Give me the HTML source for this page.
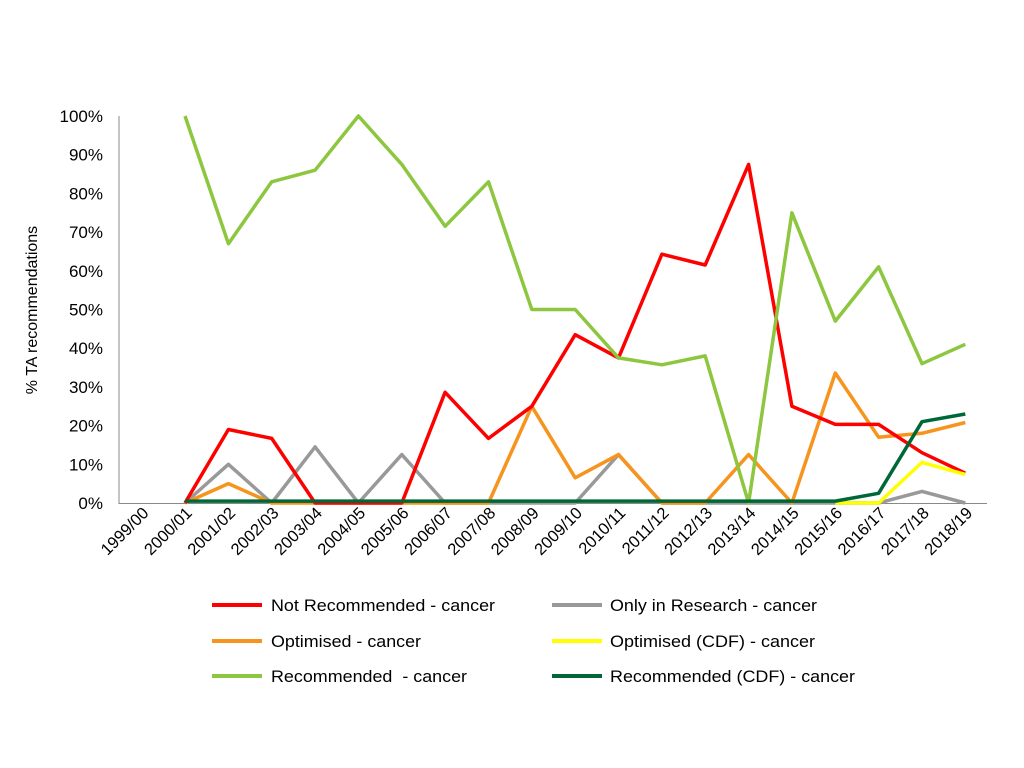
<!DOCTYPE html>
<html><head><meta charset="utf-8"><style>
body{margin:0;background:#fff;}
svg{display:block;font-family:"Liberation Sans",Arial,sans-serif;}
</style></head><body>
<svg id="c" width="1024" height="768" xmlns="http://www.w3.org/2000/svg">
<text transform="translate(37,310) rotate(-90)" font-size="16" text-anchor="middle" fill="#000">% TA recommendations</text>
<g id="g"></g>
<g font-size="17" fill="#000">
<line x1="212" y1="605" x2="262" y2="605" stroke="#ff0000" stroke-width="4"/><text x="271" y="611" textLength="224" lengthAdjust="spacingAndGlyphs">Not Recommended - cancer</text>
<line x1="552" y1="605" x2="602" y2="605" stroke="#999999" stroke-width="4"/><text x="610" y="611" textLength="207" lengthAdjust="spacingAndGlyphs">Only in Research - cancer</text>
<line x1="212" y1="641" x2="262" y2="641" stroke="#f7941d" stroke-width="4"/><text x="271" y="647" textLength="150" lengthAdjust="spacingAndGlyphs">Optimised - cancer</text>
<line x1="552" y1="641" x2="602" y2="641" stroke="#ffff00" stroke-width="4"/><text x="610" y="647" textLength="205" lengthAdjust="spacingAndGlyphs">Optimised (CDF) - cancer</text>
<line x1="212" y1="676" x2="262" y2="676" stroke="#8dc63f" stroke-width="4"/><text x="271" y="682" textLength="196" lengthAdjust="spacingAndGlyphs">Recommended&#160; - cancer</text>
<line x1="552" y1="676" x2="602" y2="676" stroke="#006837" stroke-width="4"/><text x="610" y="682" textLength="245" lengthAdjust="spacingAndGlyphs">Recommended (CDF) - cancer</text>
</g>
</svg>
<script>
var g=document.getElementById('g'),h='';
var x0=120,x1=987,y0=503,k=3.87,w=(x1-x0)/20;
function X(i){return x0+w*(i+0.5);}
function Y(v){return y0-v*k;}
for(var t=0;t<=100;t+=10){h+='<text x="103" y="'+(Y(t)+6)+'" font-size="17" text-anchor="end">'+t+'%</text>';}
h+='<line x1="119" y1="116" x2="119" y2="504" stroke="#888" stroke-width="1"/>';
h+='<line x1="119" y1="503.5" x2="987" y2="503.5" stroke="#888" stroke-width="1"/>';
var labs=['1999/00','2000/01','2001/02','2002/03','2003/04','2004/05','2005/06','2006/07','2007/08','2008/09','2009/10','2010/11','2011/12','2012/13','2013/14','2014/15','2015/16','2016/17','2017/18','2018/19'];
for(var i=0;i<20;i++){var x=X(i);
h+='<text transform="translate('+(x+8)+',514) rotate(-45)" font-size="16.5" text-anchor="end">'+labs[i]+'</text>';}
function line(d,c,s,sw){var p=[];for(var j=0;j<d.length;j++){p.push(X(s+j).toFixed(1)+','+Y(d[j]).toFixed(1));}
h+='<polyline points="'+p.join(' ')+'" fill="none" stroke="'+c+'" stroke-width="'+(sw||3.5)+'" stroke-linejoin="round"/>';}
line([0,10,0,14.5,0,12.5,0,0,0,0,12.5,0,0,0,0,0,0,3,0],'#999999',1);
line([0,5,0,0,0,0,0,0,25,6.5,12.5,0,0,12.5,0,33.6,17,18,20.8],'#f7941d',1);
line([0,19,16.7,0,0,0,28.6,16.7,25,43.5,37.5,64.3,61.5,87.5,25,20.3,20.3,13,7.7],'#ff0000',1);
line([100,67,83,86,100,87.5,71.5,83,50,50,37.5,35.7,38,0,75,47,61,36,41],'#8dc63f',1);
line([0,0,10.5,7.4],'#ffff00',16);
line([0.5,0.5,0.5,0.5,0.5,0.5,0.5,0.5,0.5,0.5,0.5,0.5,0.5,0.5,0.5,0.5,2.5,21,23],'#006837',1);
g.innerHTML=h;
</script>
</body></html>
